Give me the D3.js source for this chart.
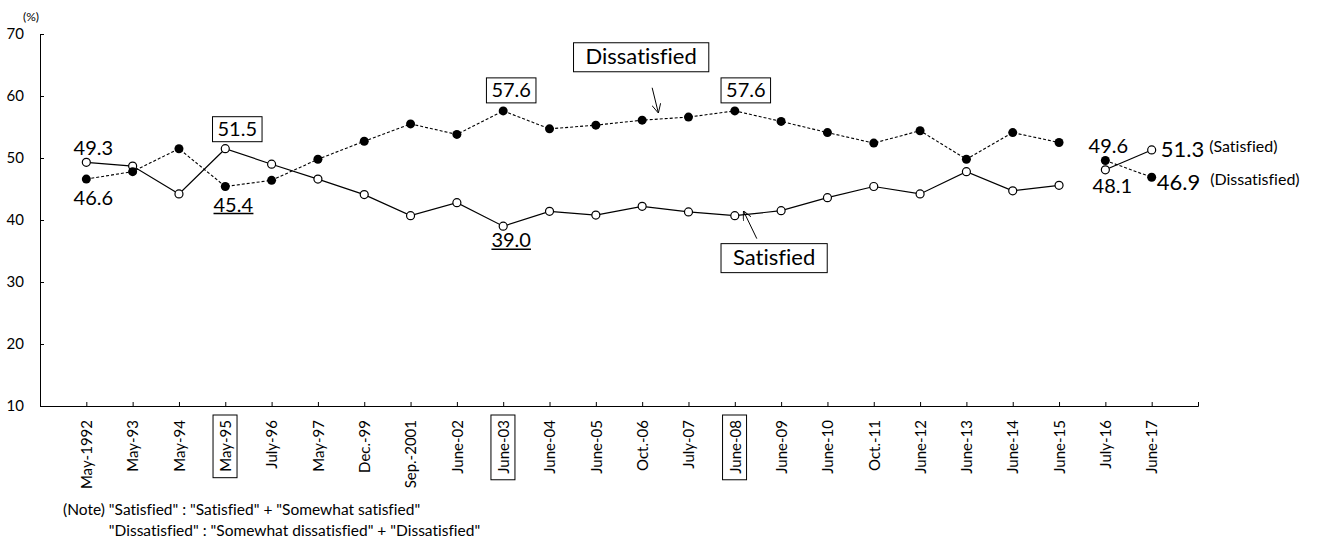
<!DOCTYPE html>
<html>
<head>
<meta charset="utf-8">
<script src="https://cdn.jsdelivr.net/npm/d3@7"></script>
<style>
  body { margin: 0; background: #fff; }
  svg { font-family: Lato, "Noto Sans", sans-serif; font-variant-ligatures: none; }
</style>
</head>
<body>
<div id="chart"></div>
<script>
const categories = ["May-1992", "May-93", "May-94", "May-95", "July-96", "May-97", "Dec.-99", "Sep.-2001",
  "June-02", "June-03", "June-04", "June-05", "Oct.-06", "July-07", "June-08", "June-09", "June-10",
  "Oct.-11", "June-12", "June-13", "June-14", "June-15", "July-16", "June-17"];
const satisfied = [49.3, 48.7, 44.2, 51.5, 49.0, 46.6, 44.1, 40.7, 42.8, 39.0, 41.4, 40.8, 42.2, 41.3,
  40.7, 41.5, 43.6, 45.4, 44.2, 47.8, 44.7, 45.6, 48.1, 51.3];
const dissatisfied = [46.6, 47.8, 51.5, 45.4, 46.4, 49.8, 52.7, 55.5, 53.8, 57.6, 54.7, 55.3, 56.1, 56.6,
  57.6, 55.9, 54.1, 52.4, 54.4, 49.8, 54.1, 52.5, 49.6, 46.9];
const yTicks = [10, 20, 30, 40, 50, 60, 70];
const boxedCategories = ["May-95", "June-03", "June-08"];
const breakAfter = "June-15";

const width = 1320, height = 542;

const svg = d3.select("#chart").append("svg")
    .attr("width", width)
    .attr("height", height);

const x = d3.scalePoint()
    .domain(categories)
    .range([40, 1198])
    .padding(1);

const y = d3.scaleLinear()
    .domain([10, 70])
    .range([406, 34]);

// axes
const yAxis = svg.append("g")
    .attr("transform", `translate(${x.range()[0]},0)`)
    .call(d3.axisLeft(y).tickValues(yTicks).tickSizeInner(-4).tickSizeOuter(0).tickPadding(16));

const xAxis = svg.append("g")
    .attr("transform", `translate(0,${y(10)})`)
    .call(d3.axisBottom(x).tickSizeInner(-4).tickSizeOuter(-4));

[xAxis, yAxis].forEach(g => {
    g.attr("font-family", null).attr("font-size", null);
    g.selectAll("path, line").attr("stroke", "#000").attr("stroke-width", 1);
    g.selectAll("text").attr("fill", "#000").style("font-size", "15px");
});

xAxis.selectAll("text")
    .attr("transform", "rotate(-90)")
    .attr("text-anchor", "end")
    .attr("x", -14)
    .attr("y", 0)
    .attr("dy", "0.35em");

xAxis.selectAll(".tick")
    .filter(d => boxedCategories.includes(d))
    .each(function() {
        const t = d3.select(this).select("text");
        const bb = t.node().getBBox();
        d3.select(this).append("rect")
            .attr("transform", "rotate(-90)")
            .attr("x", bb.x - 6)
            .attr("y", bb.y - 3)
            .attr("width", bb.width + 11)
            .attr("height", bb.height + 6)
            .attr("fill", "none")
            .attr("stroke", "#000");
    });

svg.append("text")
    .attr("x", 31)
    .attr("y", 21)
    .attr("text-anchor", "middle")
    .style("font-size", "12px")
    .text("(%)");

// lines
const rows = categories.map((c, i) => ({cat: c, s: satisfied[i], d: dissatisfied[i]}));
const cut = categories.indexOf(breakAfter) + 1;
const segments = [rows.slice(0, cut), rows.slice(cut)];

const lineS = d3.line().x(d => x(d.cat)).y(d => y(d.s));
const lineD = d3.line().x(d => x(d.cat)).y(d => y(d.d));

segments.forEach(seg => {
    svg.append("path")
        .datum(seg)
        .attr("d", lineS)
        .attr("fill", "none")
        .attr("stroke", "#000")
        .attr("stroke-width", 1.2);
    svg.append("path")
        .datum(seg)
        .attr("d", lineD)
        .attr("fill", "none")
        .attr("stroke", "#000")
        .attr("stroke-width", 1.1)
        .attr("stroke-dasharray", "3,2");
});

svg.selectAll(".dot-s")
    .data(rows)
    .enter()
    .append("circle")
    .attr("class", "dot-s")
    .attr("cx", d => x(d.cat))
    .attr("cy", d => y(d.s))
    .attr("r", 4)
    .attr("fill", "#fff")
    .attr("stroke", "#000")
    .attr("stroke-width", 1.2);

svg.selectAll(".dot-d")
    .data(rows)
    .enter()
    .append("circle")
    .attr("class", "dot-d")
    .attr("cx", d => x(d.cat))
    .attr("cy", d => y(d.d))
    .attr("r", 4.5)
    .attr("fill", "#000");

// value labels
const labels = [
    {cat: "May-1992", key: "s", dx: 7, dy: -7, style: "plain"},
    {cat: "May-1992", key: "d", dx: 7, dy: 26, style: "plain"},
    {cat: "May-95", key: "s", dx: 12, dy: -13, style: "box"},
    {cat: "May-95", key: "d", dx: 8, dy: 25, style: "underline"},
    {cat: "June-03", key: "d", dx: 8, dy: -14, style: "box"},
    {cat: "June-03", key: "s", dx: 8, dy: 21, style: "underline"},
    {cat: "June-08", key: "d", dx: 11, dy: -14, style: "box"},
    {cat: "July-16", key: "d", dx: 3, dy: -7, style: "plain"},
    {cat: "July-16", key: "s", dx: 7, dy: 23, style: "plain"}
];

labels.forEach(l => {
    const row = rows.find(r => r.cat === l.cat);
    const t = svg.append("text")
        .attr("x", x(l.cat) + l.dx)
        .attr("y", y(row[l.key]) + l.dy)
        .attr("text-anchor", "middle")
        .style("font-size", "20px")
        .text(row[l.key].toFixed(1));
    const bb = t.node().getBBox();
    if (l.style === "box") {
        svg.append("rect")
            .attr("x", bb.x - 5)
            .attr("y", bb.y + 1)
            .attr("width", bb.width + 10)
            .attr("height", bb.height + 1)
            .attr("fill", "none")
            .attr("stroke", "#000");
    } else if (l.style === "underline") {
        svg.append("line")
            .attr("x1", bb.x)
            .attr("x2", bb.x + bb.width)
            .attr("y1", y(row[l.key]) + l.dy + 2)
            .attr("y2", y(row[l.key]) + l.dy + 2)
            .attr("stroke", "#000")
            .attr("stroke-width", 1.5);
    }
});

// end labels at the last survey
const last = rows[rows.length - 1];
const endLabels = [
    {key: "s", dx: 9, dy: 7, name: "(Satisfied)", gap: 5},
    {key: "d", dx: 5, dy: 13, name: "(Dissatisfied)", gap: 10}
];
endLabels.forEach(l => {
    const t = svg.append("text")
        .attr("x", x(last.cat) + l.dx)
        .attr("y", y(last[l.key]) + l.dy);
    t.append("tspan")
        .style("font-size", "22px")
        .text(last[l.key].toFixed(1));
    t.append("tspan")
        .attr("dx", l.gap)
        .attr("dy", -5)
        .style("font-size", "16px")
        .text(l.name);
});

// series callouts
svg.append("defs").append("marker")
    .attr("id", "arrow")
    .attr("viewBox", "0 0 10 10")
    .attr("refX", 9)
    .attr("refY", 5)
    .attr("markerWidth", 9)
    .attr("markerHeight", 9)
    .attr("markerUnits", "userSpaceOnUse")
    .attr("orient", "auto")
    .append("path")
    .attr("d", "M0,0L10,5L0,10")
    .attr("fill", "none")
    .attr("stroke", "#000");

const callouts = [
    {text: "Dissatisfied", cat: "Oct.-06", dx: -1, value: 65.2,
     from: [10, 24], tip: {cat: "Oct.-06", key: "d", dx: 16, dy: -8}},
    {text: "Satisfied", cat: "June-09", dx: -7, value: 32.8,
     from: [-17, -26], tip: {cat: "June-08", key: "s", dx: 9, dy: -4}}
];

callouts.forEach(c => {
    const tx = x(c.cat) + c.dx, ty = y(c.value);
    const t = svg.append("text")
        .attr("x", tx)
        .attr("y", ty)
        .attr("text-anchor", "middle")
        .style("font-size", "22px")
        .text(c.text);
    const bb = t.node().getBBox();
    svg.append("rect")
        .attr("x", bb.x - 12)
        .attr("y", bb.y + 1)
        .attr("width", bb.width + 24)
        .attr("height", bb.height + 2)
        .attr("fill", "none")
        .attr("stroke", "#000");
    const row = rows.find(r => r.cat === c.tip.cat);
    svg.append("line")
        .attr("x1", x(c.tip.cat) + c.tip.dx + (c.from[0] > 0 ? -6 : 13))
        .attr("y1", ty + c.from[1])
        .attr("x2", x(c.tip.cat) + c.tip.dx)
        .attr("y2", y(row[c.tip.key]) + c.tip.dy)
        .attr("stroke", "#000")
        .attr("marker-end", "url(#arrow)");
});

// note
const note = svg.append("g").style("font-size", "15.5px");
const n1 = note.append("text").attr("x", 63).attr("y", 515);
const lead = n1.append("tspan").text("(Note) ");
n1.append("tspan").text("\"Satisfied\" : \"Satisfied\" + \"Somewhat satisfied\"");
note.append("text")
    .attr("x", 63 + lead.node().getComputedTextLength())
    .attr("y", 536)
    .text("\"Dissatisfied\" : \"Somewhat dissatisfied\" + \"Dissatisfied\"");
</script>
</body>
</html>
